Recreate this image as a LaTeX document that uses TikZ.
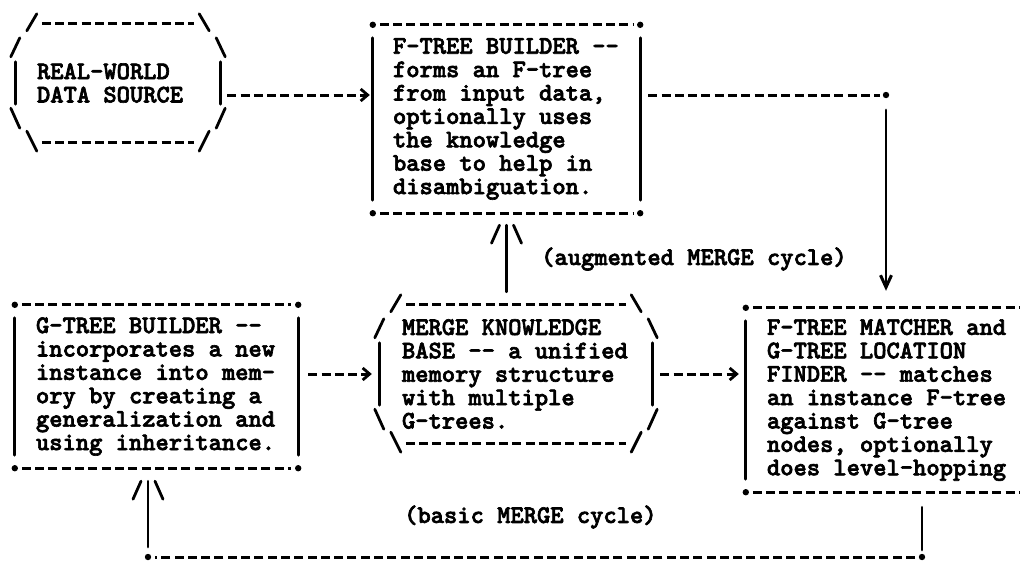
\documentclass[tikz,border=0pt]{standalone}
\usepackage{fontspec}
\usetikzlibrary{arrows.meta,calc}

\newfontfamily\typefam{lmmonolt10-bold.otf}[FakeBold=2.5]
\newcommand{\boxfont}{\typefam\fontsize{25.3pt}{23.4pt}\selectfont}
\newcommand{\dd}{-\kern0pt-}

\tikzset{
  boxframe/.style={draw=none, inner sep=0pt},
  boxtext/.style={font=\boxfont, align=left, inner sep=0pt, anchor=west},
  dashrule/.style={line width=3pt, dash pattern=on 9pt off 4.3pt},
  solidbar/.style={line width=2.8pt, line cap=round},
  dashlink/.style={dashrule, -{Straight Barb[length=7pt,width=12pt,line width=2.8pt]}},
}

% box with + corners
\newcommand{\boxedge}[1]{%
  \draw[dashrule] ($(#1.north west)+(7,0)$) -- ($(#1.north east)+(-7,0)$);
  \draw[dashrule] ($(#1.south west)+(7,0)$) -- ($(#1.south east)+(-7,0)$);
  \draw[solidbar] ($(#1.north west)+(0,13)$) -- ($(#1.south west)+(0,-13)$);
  \draw[solidbar] ($(#1.north east)+(0,13)$) -- ($(#1.south east)+(0,-13)$);
  \foreach \a in {north west,north east,south west,south east}
    \fill (#1.\a) circle (3.2pt);
}

% six-sided box made of slashes
\newcommand{\hexedge}[1]{%
  \draw[dashrule] ($(#1.north west)+(26,0)$) -- ($(#1.north east)+(-26,0)$);
  \draw[dashrule] ($(#1.south west)+(26,0)$) -- ($(#1.south east)+(-26,0)$);
  \draw[solidbar] ($(#1.north west)+(11,7)$) -- ($(#1.north west)+(21,-10)$);
  \draw[solidbar] ($(#1.north west)+(-5,33)$) -- ($(#1.north west)+(4,14)$);
  \draw[solidbar] ($(#1.north west)+(0,38)$) -- ($(#1.south west)+(0,-38)$);
  \draw[solidbar] ($(#1.south west)+(-5,-34)$) -- ($(#1.south west)+(4,-14)$);
  \draw[solidbar] ($(#1.south west)+(11,-11)$) -- ($(#1.south west)+(21,9)$);
  \draw[solidbar] ($(#1.north east)+(-11,7)$) -- ($(#1.north east)+(-21,-10)$);
  \draw[solidbar] ($(#1.north east)+(5,33)$) -- ($(#1.north east)+(-4,14)$);
  \draw[solidbar] ($(#1.north east)+(0,38)$) -- ($(#1.south east)+(0,-38)$);
  \draw[solidbar] ($(#1.south east)+(5,-34)$) -- ($(#1.south east)+(-4,-14)$);
  \draw[solidbar] ($(#1.south east)+(-11,-11)$) -- ($(#1.south east)+(-21,9)$);
}

% the /|\ head
\newcommand{\uptip}[1]{%
  \draw[solidbar] ($(#1)+(-15,18)$) -- ($(#1)+(-7,0)$);
  \draw[solidbar] ($(#1)+(15,18)$) -- ($(#1)+(7,0)$);
}

\begin{document}
\begin{tikzpicture}[x=1pt, y=-1pt]
\useasboundingbox (0,0) rectangle (1023,563);

% boxes
\node[boxframe, minimum width=204pt, minimum height=118pt] (src) at (118,83) {};
\node[boxtext] (src-txt) at ($(src.west)+(21,0)$) {REAL-WORLD\\DATA SOURCE};
\hexedge{src}

\node[boxframe, minimum width=267pt, minimum height=188pt] (ftb) at (506.5,119) {};
\node[boxtext] (ftb-txt) at ($(ftb.west)+(20,0)$) {F-TREE BUILDER \dd\\forms an F-tree\\from input data,\\optionally uses\\the knowledge\\base to help in\\disambiguation.};
\boxedge{ftb}

\node[boxframe, minimum width=283pt, minimum height=163pt] (gtb) at (156.5,386.5) {};
\node[boxtext] (gtb-txt) at ($(gtb.west)+(21,0)$) {G-TREE BUILDER \dd\\incorporates a new\\instance into mem-\\ory by creating a\\generalization and\\using inheritance.};
\boxedge{gtb}

\node[boxframe, minimum width=272pt, minimum height=138pt] (kb) at (516,374) {};
\node[boxtext] (kb-txt) at ($(kb.west)+(22,0)$) {MERGE KNOWLEDGE\\BASE \dd{} a unified\\memory structure\\with multiple\\G-trees.};
\hexedge{kb}

\node[boxframe, minimum width=280pt, minimum height=184pt] (ftm) at (886,400) {};
\node[boxtext] (ftm-txt) at ($(ftm.west)+(21,0)$) {F-TREE MATCHER and\\G-TREE LOCATION\\FINDER \dd{} matches\\an instance F-tree\\against G-tree\\nodes, optionally\\does level-hopping};
\boxedge{ftm}

% straight links
\coordinate (ftb-in) at ($(ftb.west)+(0,-24)$);
\draw[dashlink] ($(src.east |- ftb-in)+(7,0)$) -- ($(ftb-in)+(-3,0)$);
\draw[dashlink] ($(gtb.east |- kb.west)+(10,0)$) -- ($(kb.west)+(-8,0)$);
\draw[dashlink] ($(kb.east)+(8,0)$) -- ($(ftm.west |- kb.east)+(-7,0)$);

% augmented cycle
\coordinate (aug-ne) at (ftm.north |- ftb-in);
\draw[dashrule] ($(ftb.east |- ftb-in)+(8,0)$) -- ($(aug-ne)+(-6,0)$);
\fill (aug-ne) circle (3.2pt);
\draw[solidbar, -{Straight Barb[length=12pt,width=11pt,line width=3pt]}] ($(aug-ne)+(0,15)$) -- ($(ftm.north)+(0,-17)$);
\coordinate (aug-tip) at ($(ftb.south)+(0,12)$);
\draw[solidbar] ($(ftb.south |- kb.north)+(0,-13)$) -- (aug-tip);
\uptip{aug-tip}
\node[boxtext] (aug) at (541,259) {(augmented MERGE cycle)};

% basic cycle
\coordinate (basic-se) at (922,557);
\coordinate (basic-sw) at (148,557);
\coordinate (basic-tip) at ($(gtb.south -| basic-sw)+(0,13)$);
\draw[solidbar] ($(ftm.south -| basic-se)+(0,15)$) -- ($(basic-se)+(0,-7)$);
\draw[dashrule] ($(basic-se)+(-7,0)$) -- ($(basic-sw)+(7,0)$);
\fill (basic-se) circle (3.2pt);
\fill (basic-sw) circle (3.2pt);
\draw[solidbar] ($(basic-sw)+(0,-10)$) -- (basic-tip);
\uptip{basic-tip}
\node[boxtext] (basic) at (404,517) {(basic MERGE cycle)};
\end{tikzpicture}
\end{document}
